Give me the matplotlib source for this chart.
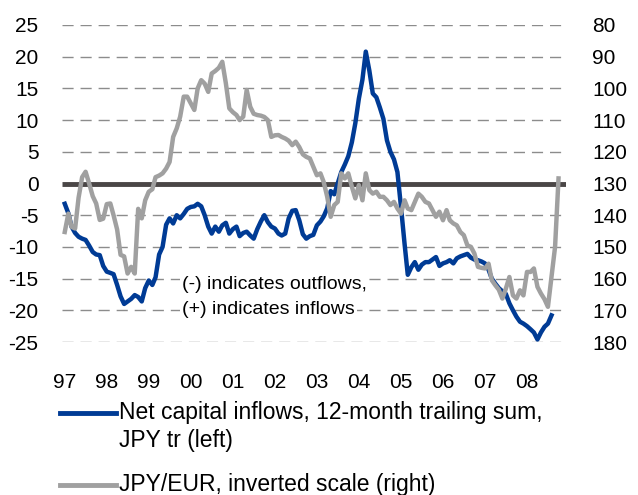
import numpy as np
import pandas as pd
import matplotlib
matplotlib.use("Agg")
import matplotlib.pyplot as plt
import matplotlib.dates as mdates
from matplotlib.lines import Line2D

plt.rcParams['font.family'] = ['Liberation Sans', 'DejaVu Sans']
plt.rcParams['axes.unicode_minus'] = False

# Net capital inflows, 12-month trailing sum, JPY tr (monthly, Jan 1997 - Aug 2008)
net_inflows = [
    -3.2, -4.7, -6.8, -7.8, -8.4, -8.7, -8.9, -9.8, -10.8, -11.2, -11.3, -13.0,
    -13.9, -14.1, -14.3, -16.0, -17.8, -19.0, -18.6, -18.2, -17.6, -17.9, -18.6, -16.5,
    -15.3, -16.0, -14.8, -11.2, -10.0, -6.5, -5.5, -6.3, -5.0, -5.5, -4.8, -4.0,
    -3.7, -3.6, -3.2, -3.6, -5.0, -6.8, -7.9, -6.8, -7.6, -6.6, -6.2, -7.9,
    -7.2, -6.8, -8.3, -7.8, -7.6, -8.2, -8.7, -7.2, -6.0, -5.0, -6.1, -6.8,
    -7.1, -7.9, -8.2, -7.9, -5.5, -4.3, -4.2, -5.8, -8.0, -8.7, -8.3, -8.1,
    -6.6, -6.0, -5.2, -3.9, -1.2, -1.7, 0.0, 1.8, 3.0, 4.3, 6.5, 9.5,
    13.4, 16.4, 20.8, 17.8, 14.2, 13.6, 12.0, 10.2, 6.8, 5.0, 3.8, 1.8,
    -3.7, -9.5, -14.4, -13.2, -12.4, -13.6, -12.8, -12.4, -12.4, -12.0, -11.6, -13.0,
    -12.6, -12.4, -12.1, -12.6, -11.8, -11.5, -11.3, -11.1, -11.7, -12.0, -12.1, -12.3,
    -12.6, -13.6, -15.0, -15.8, -16.5, -17.0, -17.4, -18.9, -20.0, -21.0, -21.8, -22.1,
    -22.5, -23.0, -23.5, -24.6, -23.5, -22.6, -22.1, -20.8,
]

# JPY/EUR (monthly, Jan 1997 - Oct 2008), plotted on inverted right axis
jpy_eur = [
    145.3, 139.5, 143.7, 144.2, 134.5, 128.0, 126.3, 130.0, 134.0, 136.3, 141.5, 141.1,
    136.5, 136.3, 140.0, 144.5, 152.5, 153.0, 158.4, 156.3, 158.4, 138.0, 141.0, 135.3,
    132.6, 131.8, 128.0, 127.5, 126.8, 125.3, 123.2, 115.3, 112.6, 108.9, 102.6, 102.6,
    104.7, 106.8, 100.0, 97.4, 98.5, 101.1, 95.3, 94.5, 93.5, 91.6, 98.4, 106.3,
    107.5, 108.4, 110.0, 108.9, 100.5, 105.8, 108.0, 108.4, 108.6, 109.0, 110.0, 115.3,
    114.8, 114.7, 115.3, 115.8, 116.5, 117.9, 116.8, 118.5, 120.8, 121.6, 122.1, 124.7,
    127.4, 126.8, 129.5, 134.2, 140.5, 136.8, 135.8, 126.8, 128.4, 126.8, 131.0, 134.7,
    130.5, 135.3, 126.8, 132.1, 133.2, 132.6, 134.2, 134.2, 135.3, 136.8, 135.8, 137.9,
    139.5, 135.3, 137.9, 138.4, 135.8, 133.2, 134.2, 135.8, 136.3, 138.4, 140.5, 138.9,
    141.6, 138.4, 141.6, 142.6, 143.2, 145.3, 146.3, 149.5, 150.0, 152.1, 156.3, 156.6,
    156.8, 155.3, 160.5, 162.1, 163.5, 166.3, 163.2, 159.5, 165.3, 166.3, 163.7, 165.3,
    157.9, 157.9, 156.8, 162.6, 164.7, 166.5, 168.9, 159.5, 150.0, 128.4,
]

left_ticks = [25, 20, 15, 10, 5, 0, -5, -10, -15, -20, -25]
right_ticks = [80, 90, 100, 110, 120, 130, 140, 150, 160, 170, 180]
year_ticks = list(range(1997, 2009))

dates_net = pd.date_range("1997-01-01", periods=len(net_inflows), freq="MS")
dates_fx = pd.date_range("1997-01-01", periods=len(jpy_eur), freq="MS")

BLUE = "#003B95"
GRAY = "#A0A0A0"
ZERO = "#4A4646"
GRID = "#8C8C8C"
FS = 15
LEG_FS = 16.5

fig = plt.figure(figsize=(6.38, 4.95), dpi=100)
W, H = 638, 495
ax = fig.add_axes([62 / W, 1 - 342 / H, (566 - 62) / W, (342 - 25) / H])
ax2 = ax.twinx()

ax.set_ylim(-25, 25)
ax.set_yticks(left_ticks)
ax2.set_ylim(180, 80)
ax2.set_yticks(right_ticks)

ax.set_xlim(pd.Timestamp("1996-12-08"), pd.Timestamp("2008-12-05"))
ax.set_xticks([pd.Timestamp(f"{y}-01-01") for y in year_ticks])
ax.xaxis.set_major_formatter(mdates.DateFormatter("%y"))

for v in left_ticks:
    if v != 0:
        ax.axhline(v, color=GRID, lw=1.0, ls=(0, (8, 5)), zorder=0)
ax.axhline(0, color=ZERO, lw=3.5, zorder=1, solid_capstyle="butt")

ax.plot(dates_net, net_inflows, color=BLUE, lw=3.2, zorder=3, solid_joinstyle="round")
ax2.plot(dates_fx, jpy_eur, color=GRAY, lw=3.2, zorder=3, solid_joinstyle="round")

for a in (ax, ax2):
    for s in a.spines.values():
        s.set_visible(False)
    a.tick_params(length=0, labelsize=FS)
ax.tick_params(axis="y", pad=17)
ax2.tick_params(axis="y", pad=19)
ax.tick_params(axis="x", pad=22)

box = dict(facecolor="white", edgecolor="none", pad=1.5)
ax.text(pd.Timestamp("1999-10-20"), -15.9, "(-) indicates outflows,", fontsize=14,
        va="center", ha="left", bbox=box, zorder=2)
ax.text(pd.Timestamp("1999-10-20"), -19.8, "(+) indicates inflows", fontsize=14,
        va="center", ha="left", bbox=box, zorder=2)

# legend drawn under the plot
fig.add_artist(Line2D([60 / W, 116 / W], [1 - 413 / H, 1 - 413 / H], color=BLUE, lw=3.5))
fig.text(119 / W, 1 - 412 / H, "Net capital inflows, 12-month trailing sum,", fontsize=LEG_FS, va="center")
fig.text(119 / W, 1 - 440 / H, "JPY tr (left)", fontsize=LEG_FS, va="center")
fig.add_artist(Line2D([60 / W, 116 / W], [1 - 485 / H, 1 - 485 / H], color=GRAY, lw=3.5))
fig.text(119 / W, 1 - 484 / H, "JPY/EUR, inverted scale (right)", fontsize=LEG_FS, va="center")

fig.savefig("out.png", dpi=100)
